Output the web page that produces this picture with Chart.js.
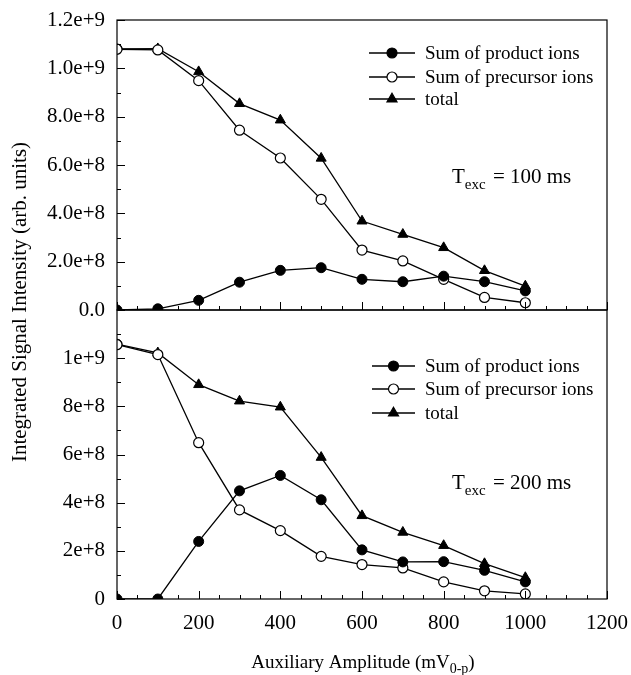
<!DOCTYPE html>
<html>
<head>
<meta charset="utf-8">
<script src="https://cdn.jsdelivr.net/npm/chart.js@4"></script>
<style>
html,body{margin:0;padding:0;background:#fff;}
#wrap{position:relative;width:631px;height:675px;}
canvas{position:absolute;left:0;top:0;}
</style>
</head>
<body>
<div id="wrap">
<canvas id="top" width="631" height="675"></canvas>
<canvas id="bot" width="631" height="675"></canvas>
</div>
<script>
const amplitudes = [0, 100, 200, 300, 400, 500, 600, 700, 800, 900, 1000];

// T_exc = 100 ms
const product100   = [0, 0.005e9, 0.040e9, 0.115e9, 0.164e9, 0.175e9, 0.127e9, 0.117e9, 0.140e9, 0.117e9, 0.079e9];
const precursor100 = [1.079e9, 1.076e9, 0.949e9, 0.744e9, 0.629e9, 0.458e9, 0.248e9, 0.203e9, 0.127e9, 0.052e9, 0.030e9];
const total100     = [1.080e9, 1.081e9, 0.986e9, 0.854e9, 0.786e9, 0.628e9, 0.368e9, 0.313e9, 0.258e9, 0.163e9, 0.099e9];

// T_exc = 200 ms
const product200   = [0, 0, 0.239e9, 0.449e9, 0.513e9, 0.412e9, 0.204e9, 0.154e9, 0.155e9, 0.119e9, 0.071e9];
const precursor200 = [1.056e9, 1.015e9, 0.649e9, 0.370e9, 0.284e9, 0.177e9, 0.143e9, 0.129e9, 0.071e9, 0.034e9, 0.021e9];
const total200     = [1.058e9, 1.022e9, 0.890e9, 0.822e9, 0.797e9, 0.588e9, 0.346e9, 0.277e9, 0.222e9, 0.147e9, 0.089e9];

const seriesNames = ['Sum of product ions', 'Sum of precursor ions', 'total'];
const topTickLabels = ['0.0', '2.0e+8', '4.0e+8', '6.0e+8', '8.0e+8', '1.0e+9', '1.2e+9'];
const botTickLabels = ['0', '2e+8', '4e+8', '6e+8', '8e+8', '1e+9', ''];
const xTickLabels = ['0', '200', '400', '600', '800', '1000', '1200'];

const FONT = '"Liberation Serif", "Times New Roman", serif';

function pts(arr){ return amplitudes.map((x,i)=>({x:x, y:arr[i]})); }

function makeDatasets(prod, prec, tot){
  return [
    {label: seriesNames[0], data: pts(prod), borderColor:'#000', backgroundColor:'#000',
     pointStyle:'circle', pointRadius:5, pointBorderWidth:1, pointBorderColor:'#000', borderWidth:1.3},
    {label: seriesNames[1], data: pts(prec), borderColor:'#000', backgroundColor:'#fff',
     pointStyle:'circle', pointRadius:5, pointBorderWidth:1.2, pointBorderColor:'#000', borderWidth:1.3},
    {label: seriesNames[2], data: pts(tot), borderColor:'#000', backgroundColor:'#000',
     pointStyle: ctx => ctx.dataIndex === 0 ? 'circle' : 'triangle',
     pointRadius: ctx => ctx.dataIndex === 0 ? 5 : 5.8, pointBorderWidth:1, pointBorderColor:'#000', borderWidth:1.3}
  ];
}

function drawMarker(ctx, style, filled, x, y){
  ctx.save();
  ctx.lineWidth = 1.2;
  ctx.strokeStyle = '#000';
  ctx.fillStyle = filled ? '#000' : '#fff';
  ctx.beginPath();
  if (style === 'circle') {
    ctx.arc(x, y, 5, 0, Math.PI*2);
  } else {
    const r = 5.8;
    ctx.moveTo(x, y - r);
    ctx.lineTo(x + r*0.866, y + r*0.5);
    ctx.lineTo(x - r*0.866, y + r*0.5);
    ctx.closePath();
  }
  ctx.fill(); ctx.stroke();
  ctx.restore();
}

function frameTicksPlugin(opts){
  return {
    id: 'frameTicks',
    afterDatasetsDraw(chart){
      const ctx = chart.ctx, a = chart.chartArea;
      const xs = chart.scales.x, ys = chart.scales.y;
      ctx.save();
      ctx.strokeStyle = '#000';
      ctx.lineWidth = 1.2;
      ctx.strokeRect(a.left, a.top, a.right - a.left, a.bottom - a.top);
      ctx.lineWidth = 1;
      ctx.beginPath();
      for (let v = 0; v <= 1.2e9 + 1; v += 1e8) {
        const p = Math.round(ys.getPixelForValue(v)) + 0.5;
        const L = (Math.round(v/1e8) % 2 === 0) ? 8 : 4;
        ctx.moveTo(a.left, p); ctx.lineTo(a.left + L, p);
      }
      for (let v = 0; v <= 1200; v += 50) {
        const p = Math.round(xs.getPixelForValue(v)) + 0.5;
        const L = (v % 200 === 0) ? 8 : 4;
        ctx.moveTo(p, a.bottom); ctx.lineTo(p, a.bottom - L);
      }
      ctx.stroke();

      // legend
      ctx.font = '19px ' + FONT;
      ctx.textBaseline = 'middle';
      ctx.fillStyle = '#000';
      const styles = [['circle', true], ['circle', false], ['triangle', true]];
      opts.legendY.forEach((ly, i) => {
        ctx.beginPath();
        ctx.lineWidth = 1.3;
        ctx.moveTo(opts.legendX0, ly); ctx.lineTo(opts.legendX1, ly);
        ctx.stroke();
        drawMarker(ctx, styles[i][0], styles[i][1], (opts.legendX0 + opts.legendX1)/2, ly);
        ctx.fillText(seriesNames[i], opts.legendX1 + 10, ly + 1);
      });

      // T_exc annotation
      ctx.textBaseline = 'alphabetic';
      let x = opts.texcX, y = opts.texcY;
      ctx.font = '21px ' + FONT;
      ctx.fillText('T', x, y); x += ctx.measureText('T').width;
      ctx.font = '15px ' + FONT;
      ctx.fillText('exc', x, y + 6); x += ctx.measureText('exc').width + 2;
      ctx.font = '21px ' + FONT;
      ctx.fillText(' = ' + opts.texcVal, x, y);

      if (opts.titles) {
        // y title
        ctx.save();
        ctx.translate(20, 302);
        ctx.rotate(-Math.PI/2);
        ctx.textAlign = 'center';
        ctx.textBaseline = 'middle';
        ctx.font = '21px ' + FONT;
        ctx.fillText('Integrated Signal Intensity (arb. units)', 0, 0);
        ctx.restore();
        // x title with subscript
        const main = 'Auxiliary Amplitude (mV';
        ctx.font = '19px ' + FONT;
        const w1 = ctx.measureText(main).width;
        ctx.font = '14px ' + FONT;
        const w2 = ctx.measureText('0-p').width;
        ctx.font = '19px ' + FONT;
        const w3 = ctx.measureText(')').width;
        let tx = 363 - (w1 + w2 + w3)/2;
        const ty = 668;
        ctx.fillText(main, tx, ty); tx += w1;
        ctx.font = '14px ' + FONT;
        ctx.fillText('0-p', tx, ty + 5); tx += w2;
        ctx.font = '19px ' + FONT;
        ctx.fillText(')', tx, ty);
      }
      ctx.restore();
    }
  };
}

function makeChart(id, datasets, tickLabels, isBottom, pluginOpts){
  return new Chart(document.getElementById(id), {
    type: 'line',
    data: { datasets },
    options: {
      responsive: false,
      animation: false,
      layout: { padding: isBottom ? {left:0, right:24, top:310, bottom:0} : {left:0, right:24, top:20, bottom:365} },
      plugins: { legend: {display:false}, tooltip: {enabled:false} },
      elements: { line: { tension: 0 } },
      scales: {
        x: {
          type: 'linear', min: 0, max: 1200,
          display: isBottom,
          border: { display: false },
          grid: { display: false, drawTicks: false },
          ticks: { stepSize: 200, color:'#000', padding: 12,
                   font: { family: FONT, size: 21 },
                   callback: (v, i) => xTickLabels[i] },
          afterFit: s => { s.height = isBottom ? 76 : 0; s.paddingLeft = 0; s.paddingRight = 0; }
        },
        y: {
          type: 'linear', min: 0, max: 1.2e9,
          border: { display: false },
          grid: { display: false, drawTicks: false },
          ticks: { stepSize: 2e8, color:'#000', padding: 12,
                   font: { family: FONT, size: 21 },
                   callback: (v, i) => tickLabels[i] },
          afterFit: s => { s.width = 117; s.paddingTop = 0; s.paddingBottom = 0; }
        }
      }
    },
    plugins: [frameTicksPlugin(pluginOpts)]
  });
}

makeChart('top', makeDatasets(product100, precursor100, total100), topTickLabels, false,
  { legendX0: 369, legendX1: 415, legendY: [53, 77, 99], texcX: 452, texcY: 183, texcVal: '100 ms', titles: false });
makeChart('bot', makeDatasets(product200, precursor200, total200), botTickLabels, true,
  { legendX0: 372, legendX1: 415, legendY: [366, 389, 413], texcX: 452, texcY: 489, texcVal: '200 ms', titles: true });
</script>
</body>
</html>
